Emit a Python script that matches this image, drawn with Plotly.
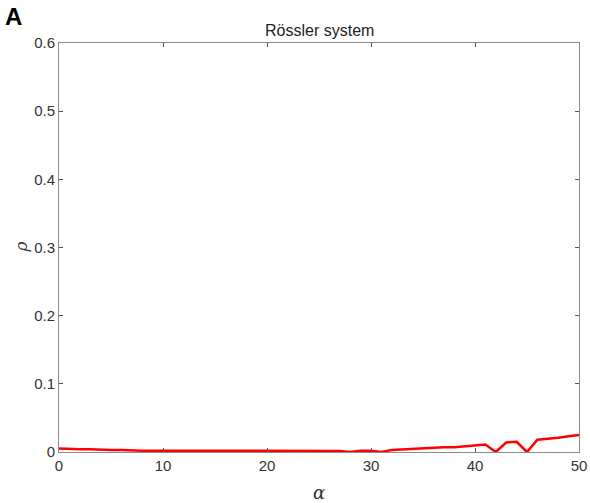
import plotly.graph_objects as go

alpha = list(range(0, 51))
rho = [0.005, 0.004, 0.004, 0.004, 0.003, 0.003, 0.003, 0.002, 0.002, 0.002,
       0.002, 0.002, 0.002, 0.001, 0.001, 0.001, 0.001, 0.001, 0.001, 0.001,
       0.001, 0.001, 0.001, 0.001, 0.001, 0.0015, 0.0015, 0.0015, 0.0, 0.002,
       0.002, 0.0, 0.003, 0.004, 0.004, 0.005, 0.006, 0.007, 0.007, 0.008,
       0.010, 0.011, 0.0, 0.014, 0.015, 0.0, 0.018, 0.019, 0.021, 0.023, 0.025]
x_ticks = [0, 10, 20, 30, 40, 50]
y_ticks = [0, 0.1, 0.2, 0.3, 0.4, 0.5, 0.6]
y_tick_labels = ["0", "0.1", "0.2", "0.3", "0.4", "0.5", "0.6"]

fig = go.Figure()
fig.add_trace(go.Scatter(x=alpha, y=rho, mode="lines",
                         line=dict(color="#ff0000", width=2.5), showlegend=False))

axis_common = dict(showgrid=False, zeroline=False, showline=True, linecolor="#8c8c8c",
                   linewidth=1, mirror="ticks", ticks="inside", ticklen=4,
                   tickcolor="#555555", automargin=False,
                   tickfont=dict(family="Liberation Sans, Arial", size=15, color="#333333"))

fig.update_xaxes(range=[0, 50], tickvals=x_ticks, **axis_common)
fig.update_yaxes(range=[0, 0.6], tickvals=y_ticks, ticktext=y_tick_labels, **axis_common)

fig.update_layout(
    width=590, height=503,
    margin=dict(l=59, r=11, t=43, b=51),
    paper_bgcolor="white", plot_bgcolor="white",
    annotations=[
        dict(text="Rössler system", x=0.5, xref="paper", y=1, yref="paper",
             yanchor="bottom", yshift=2, showarrow=False,
             font=dict(family="Liberation Sans, Arial", size=16, color="#222222")),
        dict(text="<b>A</b>", x=-0.108, xref="paper", y=1.066, yref="paper",
             xanchor="left", yanchor="middle", showarrow=False,
             font=dict(family="Liberation Sans, Arial", size=24, color="black")),
        dict(text="<i>ρ</i>", x=-0.075, xref="paper", y=0.5, yref="paper",
             xanchor="center", yanchor="middle",
             textangle=-90, showarrow=False,
             font=dict(family="DejaVu Serif, serif", size=17, color="#333333")),
        dict(text="<i>α</i>", x=0.5, xref="paper", y=-0.1, yref="paper",
             xanchor="center", yanchor="middle", showarrow=False,
             font=dict(family="DejaVu Serif, serif", size=18, color="#333333")),
    ],
)

fig.write_html("out.html")
